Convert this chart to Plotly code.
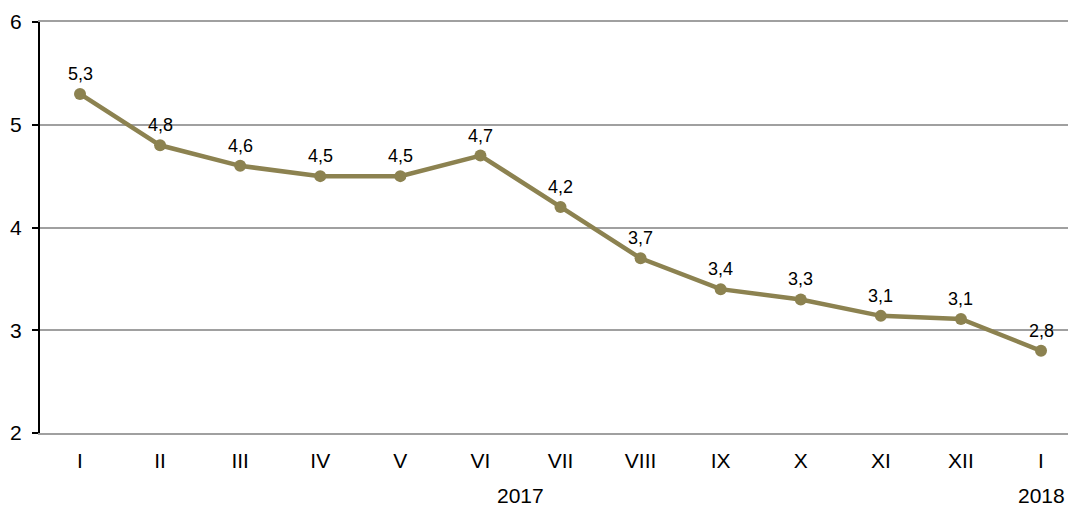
import plotly.graph_objects as go

months = ["I", "II", "III", "IV", "V", "VI", "VII", "VIII", "IX", "X", "XI", "XII", "I"]
values = [5.3, 4.8, 4.6, 4.5, 4.5, 4.7, 4.2, 3.7, 3.4, 3.3, 3.14, 3.11, 2.8]
labels = ["5,3", "4,8", "4,6", "4,5", "4,5", "4,7", "4,2", "3,7", "3,4", "3,3", "3,1", "3,1", "2,8"]
year_labels = ["2017", "2018"]
year_positions = [5.5, 12]
y_ticks = [2, 3, 4, 5, 6]

x = list(range(len(months)))
color = "#8C8250"
grid = "#A0A0A0"
font = "Liberation Sans, Arial, sans-serif"

fig = go.Figure()
fig.add_trace(go.Scatter(
    x=x, y=values, mode="lines+markers",
    line=dict(color=color, width=4.5),
    marker=dict(color=color, size=12),
    hoverinfo="skip", showlegend=False,
))

annotations = []
for xi, v, t in zip(x, values, labels):
    annotations.append(dict(x=xi, y=v, xref="x", yref="y", text=t, showarrow=False,
                            yanchor="middle", yshift=20,
                            font=dict(size=18, color="#000", family=font)))
for yp, yl in zip(year_positions, year_labels):
    annotations.append(dict(x=yp, y=0, xref="x", yref="paper", text=yl, showarrow=False,
                            yanchor="middle", yshift=-62,
                            font=dict(size=21, color="#000", family=font)))

fig.update_layout(
    width=1068, height=506,
    margin=dict(l=40, r=0, t=22, b=73),
    plot_bgcolor="white", paper_bgcolor="white",
    annotations=annotations,
    font=dict(family=font, color="#000"),
    xaxis=dict(
        tickmode="array", tickvals=x, ticktext=months,
        range=[-0.4995, 12.337], showgrid=False, zeroline=False,
        showline=True, linecolor=grid, linewidth=1.5, mirror=True,
        ticks="", tickfont=dict(size=21),
        ticklabelstandoff=8,
    ),
    yaxis=dict(
        range=[2, 6], tickvals=y_ticks, ticktext=[str(v) for v in y_ticks],
        showgrid=True, gridcolor=grid, gridwidth=1.5,
        showline=True, linecolor="#000", linewidth=2,
        ticks="outside", ticklen=6, tickcolor="#000", tickwidth=2,
        tickfont=dict(size=21), zeroline=False, ticklabelstandoff=6,
    ),
)

fig.write_html("out.html", config={"displayModeBar": False},
               post_script="document.body.style.margin='0';document.body.style.overflow='hidden';")
